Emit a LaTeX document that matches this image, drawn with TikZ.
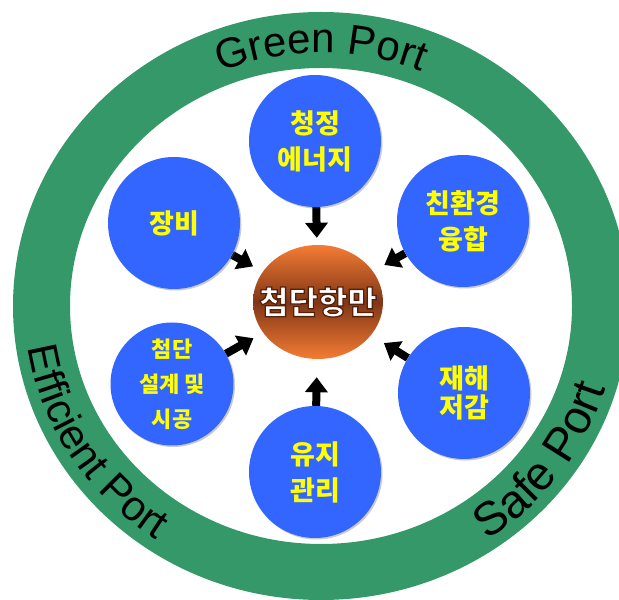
\documentclass[tikz,border=0pt]{standalone}
\usepackage{fontspec}
\newfontfamily\krfont{Noto Sans CJK KR}
\newfontfamily\latfont{Liberation Sans}
\usetikzlibrary{shapes.geometric,arrows.meta,decorations.text,shadows,calc,backgrounds}
\definecolor{ringgreen}{RGB}{52,152,104}
\definecolor{circblue}{RGB}{51,102,255}
\definecolor{txtyellow}{RGB}{255,255,0}
\definecolor{hubor}{RGB}{244,124,52}
\definecolor{hubdark}{RGB}{128,54,22}
\newcommand\ringfont{\latfont\fontsize{42}{42}\selectfont}
\newcommand\bigringfont{\latfont\fontsize{47}{47}\selectfont}
\newcommand\outlinetext[1]{\special{pdf:literal direct 2 Tr 1.3 w 0.33 0.13 0.04 RG}#1\special{pdf:literal direct 0 Tr}}
\begin{document}
\begin{tikzpicture}[x=1pt,y=1pt,
  topic/.style={circle, fill=circblue, minimum size=132pt, inner sep=0pt,
    align=center, text=txtyellow,
    font=\krfont\bfseries\fontsize{27}{36}\selectfont,
    drop shadow={shadow xshift=1.5pt, shadow yshift=-1.5pt, opacity=0.35, fill=black!60}},
  flow/.style={line width=8pt, -{Triangle[length=15pt,width=22pt]}},
  ringtext/.style={decorate, decoration={text along path, text align=center}}]
\useasboundingbox (0,0) rectangle (619,600);
\clip (0,0) rectangle (619,600);
% ring
\coordinate (C) at (321,294);
\fill[ringgreen, even odd rule] (C) ellipse[x radius=308pt, y radius=294pt]
  (C) ellipse[x radius=251pt, y radius=238pt];
% ring texts
\path[ringtext, decoration={text={|\ringfont|Green Port}}]
  ($(C)+(150:265pt and 253pt)$) arc[start angle=150, end angle=30, x radius=265pt, y radius=253pt];
\path[ringtext, decoration={text={|\ringfont|Efficient Port}}]
  ($(C)+(172:296pt and 282pt)$) arc[start angle=172, end angle=252, x radius=296pt, y radius=282pt];
\path[ringtext, decoration={text={|\bigringfont|Safe Port}}]
  ($(C)+(284:297pt and 283pt)$) arc[start angle=284, end angle=364, x radius=297pt, y radius=283pt];
% hub
\node[ellipse, minimum width=130pt, minimum height=114pt, inner sep=0pt,
  top color=hubor, bottom color=hubor, middle color=hubdark, text=white,
  font=\krfont\bfseries\fontsize{32}{32}\selectfont] (hub) at (318,298)
  {\makebox[0pt]{\outlinetext{첨단항만}}};
% topics
\node[topic] (energy) at (315,459) {청정\\에너지};
\node[topic] (equip) at (174,377) {장비};
\node[topic] (eco) at (463,379) {친환경\\융합};
\node[topic, minimum size=123pt, font=\krfont\bfseries\fontsize{22}{35}\selectfont] (design) at (172,216) {첨단\\설계 및\\시공};
\node[topic] (maint) at (315,128) {유지\\관리};
\node[topic, font=\krfont\bfseries\fontsize{27}{29}\selectfont] (disaster) at (464,207) {재해\\저감};
% arrows
\begin{pgfonlayer}{background}
\draw[flow, shorten >=7pt] (energy) -- (hub);
\draw[flow, shorten >=11pt] (equip) -- (hub);
\draw[flow, shorten >=13pt] (eco) -- (hub);
\draw[flow, shorten >=11pt] (design) -- (hub);
\draw[flow, shorten >=15pt] (disaster) -- (hub);
\draw[flow, shorten >=18pt] (maint) -- (hub);
\end{pgfonlayer}
\end{tikzpicture}
\end{document}
